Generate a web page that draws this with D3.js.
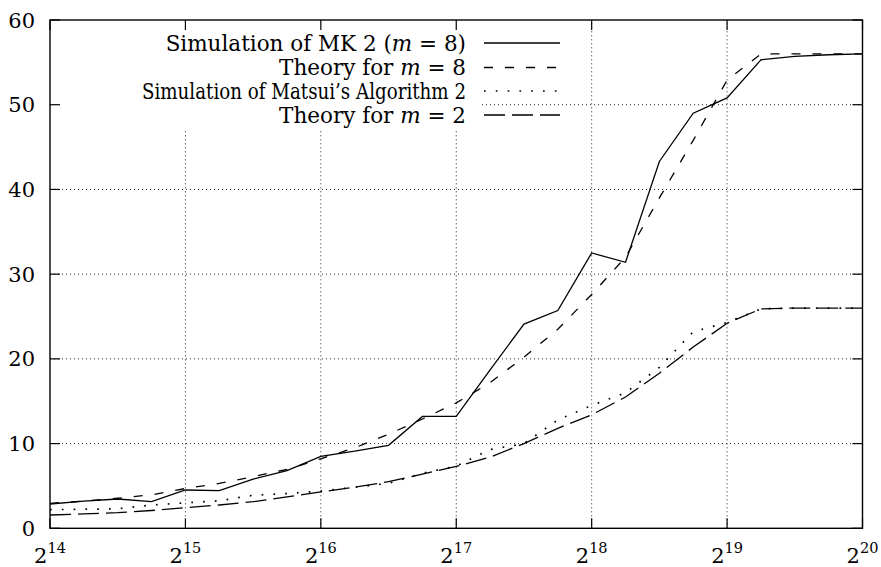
<!DOCTYPE html>
<html>
<head>
    <meta charset="utf-8">
    <script src="https://d3js.org/d3.v7.min.js"></script>
    <style>
        body { margin: 0; background: #fff; }
        text { font-family: "DejaVu Serif", serif; fill: #000; }
    </style>
</head>
<body>
<script>
    // exponents of the x values (2^14 ... 2^20, quarter steps)
    let exponents = d3.range(0, 25).map(k => 14 + k / 4);

    let simMK2 = [2.87, 3.2, 3.46, 3.14, 4.52, 4.44, 5.8, 6.8, 8.5, 9.1, 9.8, 13.2, 13.2,
                  18.7, 24.1, 25.7, 32.5, 31.4, 43.3, 49.0, 50.8, 55.3, 55.7, 55.9, 56.0];
    let theoryM8 = [2.95, 3.2, 3.55, 3.95, 4.7, 5.3, 6.1, 6.95, 8.2, 9.5, 11.1, 12.9, 14.8,
                    17.2, 20.2, 23.5, 27.6, 32.0, 39.0, 45.8, 52.9, 56.0, 56.0, 56.0, 56.0];
    let simMatsui = [2.2, 2.25, 2.3, 2.75, 3.0, 3.25, 3.9, 4.1, 4.4, 4.85, 5.3, 6.5, 7.35,
                     9.3, 10.0, 12.8, 14.5, 16.0, 19.0, 23.2, 24.3, 25.9, 26.0, 26.0, 26.0];
    let theoryM2 = [1.57, 1.7, 1.85, 2.1, 2.43, 2.75, 3.14, 3.7, 4.3, 4.85, 5.5, 6.4, 7.3,
                    8.4, 10.0, 11.8, 13.4, 15.5, 18.3, 21.4, 24.2, 25.9, 26.0, 26.0, 26.0];

    let xTickExps = [14, 15, 16, 17, 18, 19, 20];
    let yTicks = [0, 10, 20, 30, 40, 50, 60];

    let series = [
        {label: ["Simulation of MK 2 (", "m", " = 8)"], values: simMK2, dash: null, w: 1.3},
        {label: ["Theory for ", "m", " = 8"], values: theoryM8, dash: "9,12", w: 1.3},
        {label: ["Simulation of Matsui\u2019s Algorithm 2"], values: simMatsui, dash: "1.7,10.1", w: 1.7},
        {label: ["Theory for ", "m", " = 2"], values: theoryM2, dash: "21,7", w: 1.3}
    ];

    let width = 881, height = 567;
    let margin = {top: 20, right: 18.5, bottom: 38.7, left: 50};

    let svg = d3.select("body").append("svg")
        .attr("width", width)
        .attr("height", height);

    let x = d3.scaleLog().base(2)
        .domain([2 ** 14, 2 ** 20])
        .range([margin.left, width - margin.right]);

    let y = d3.scaleLinear()
        .domain([0, 60])
        .range([height - margin.bottom, margin.top]);

    let x0 = x.range()[0], x1 = x.range()[1];
    let y0 = y.range()[0], y1 = y.range()[1];

    // grid
    let grid = svg.append("g")
        .attr("stroke", "#222")
        .attr("stroke-width", 1)
        .attr("stroke-dasharray", "1,3");
    grid.selectAll(".gx")
        .data(xTickExps.slice(1, -1))
        .join("line")
            .attr("x1", d => x(2 ** d)).attr("x2", d => x(2 ** d))
            .attr("y1", y0).attr("y2", y1);
    grid.selectAll(".gy")
        .data(yTicks.slice(1, -1))
        .join("line")
            .attr("x1", x0).attr("x2", x1)
            .attr("y1", d => y(d)).attr("y2", d => y(d));

    // key background hides the grid behind the labels
    svg.append("rect")
        .attr("x", x0 + 1).attr("y", y1 + 1)
        .attr("width", 480 - x0).attr("height", 110)
        .attr("fill", "#fff");

    // curves
    let line = d3.line()
        .x((d, i) => x(2 ** exponents[i]))
        .y(d => y(d));

    svg.append("g")
        .selectAll("path")
        .data(series)
        .join("path")
            .attr("d", d => line(d.values))
            .attr("fill", "none")
            .attr("stroke", "#000")
            .attr("stroke-width", d => d.w)
            .attr("stroke-dasharray", d => d.dash);

    // frame and inward ticks
    svg.append("rect")
        .attr("x", x0).attr("y", y1)
        .attr("width", x1 - x0).attr("height", y0 - y1)
        .attr("fill", "none")
        .attr("stroke", "#000")
        .attr("stroke-width", 1.4);

    let ticks = svg.append("g").attr("stroke", "#000").attr("stroke-width", 1.2);
    xTickExps.forEach(e => {
        let px = x(2 ** e);
        ticks.append("line").attr("x1", px).attr("x2", px).attr("y1", y0).attr("y2", y0 - 10);
        ticks.append("line").attr("x1", px).attr("x2", px).attr("y1", y1).attr("y2", y1 + 10);
    });
    yTicks.forEach(v => {
        let py = y(v);
        ticks.append("line").attr("x1", x0).attr("x2", x0 + 10).attr("y1", py).attr("y2", py);
        ticks.append("line").attr("x1", x1).attr("x2", x1 - 10).attr("y1", py).attr("y2", py);
    });

    // tick labels
    svg.append("g")
        .selectAll("text")
        .data(yTicks)
        .join("text")
            .attr("x", x0 - 15)
            .attr("y", d => y(d))
            .attr("dy", "0.36em")
            .attr("text-anchor", "end")
            .attr("font-size", 21)
            .text(d => d);

    let xl = svg.append("g")
        .selectAll("text")
        .data(xTickExps)
        .join("text")
            .attr("x", d => x(2 ** d))
            .attr("y", 563)
            .attr("text-anchor", "middle")
            .attr("font-size", 21);
    xl.append("tspan").text("2");
    xl.append("tspan").attr("dy", -10).attr("font-size", 14.5).text(d => d);

    // key
    let keyRows = [43, 67.5, 91, 115];
    let key = svg.append("g");
    series.forEach((s, i) => {
        let t = key.append("text")
            .attr("x", 466)
            .attr("y", keyRows[i])
            .attr("dy", "0.36em")
            .attr("text-anchor", "end")
            .attr("font-size", 21.5);
        s.label.forEach(part => {
            t.append("tspan")
                .attr("font-style", part === "m" ? "italic" : null)
                .text(part);
        });
        // the long label is squeezed a bit to the width it has in the original
        if (t.node().getComputedTextLength() > 330) {
            t.attr("textLength", 324).attr("lengthAdjust", "spacingAndGlyphs");
        }
        key.append("line")
            .attr("x1", 484).attr("x2", 560)
            .attr("y1", keyRows[i]).attr("y2", keyRows[i])
            .attr("stroke", "#000")
            .attr("stroke-width", s.w)
            .attr("stroke-dasharray", s.dash);
    });
</script>
</body>
</html>
